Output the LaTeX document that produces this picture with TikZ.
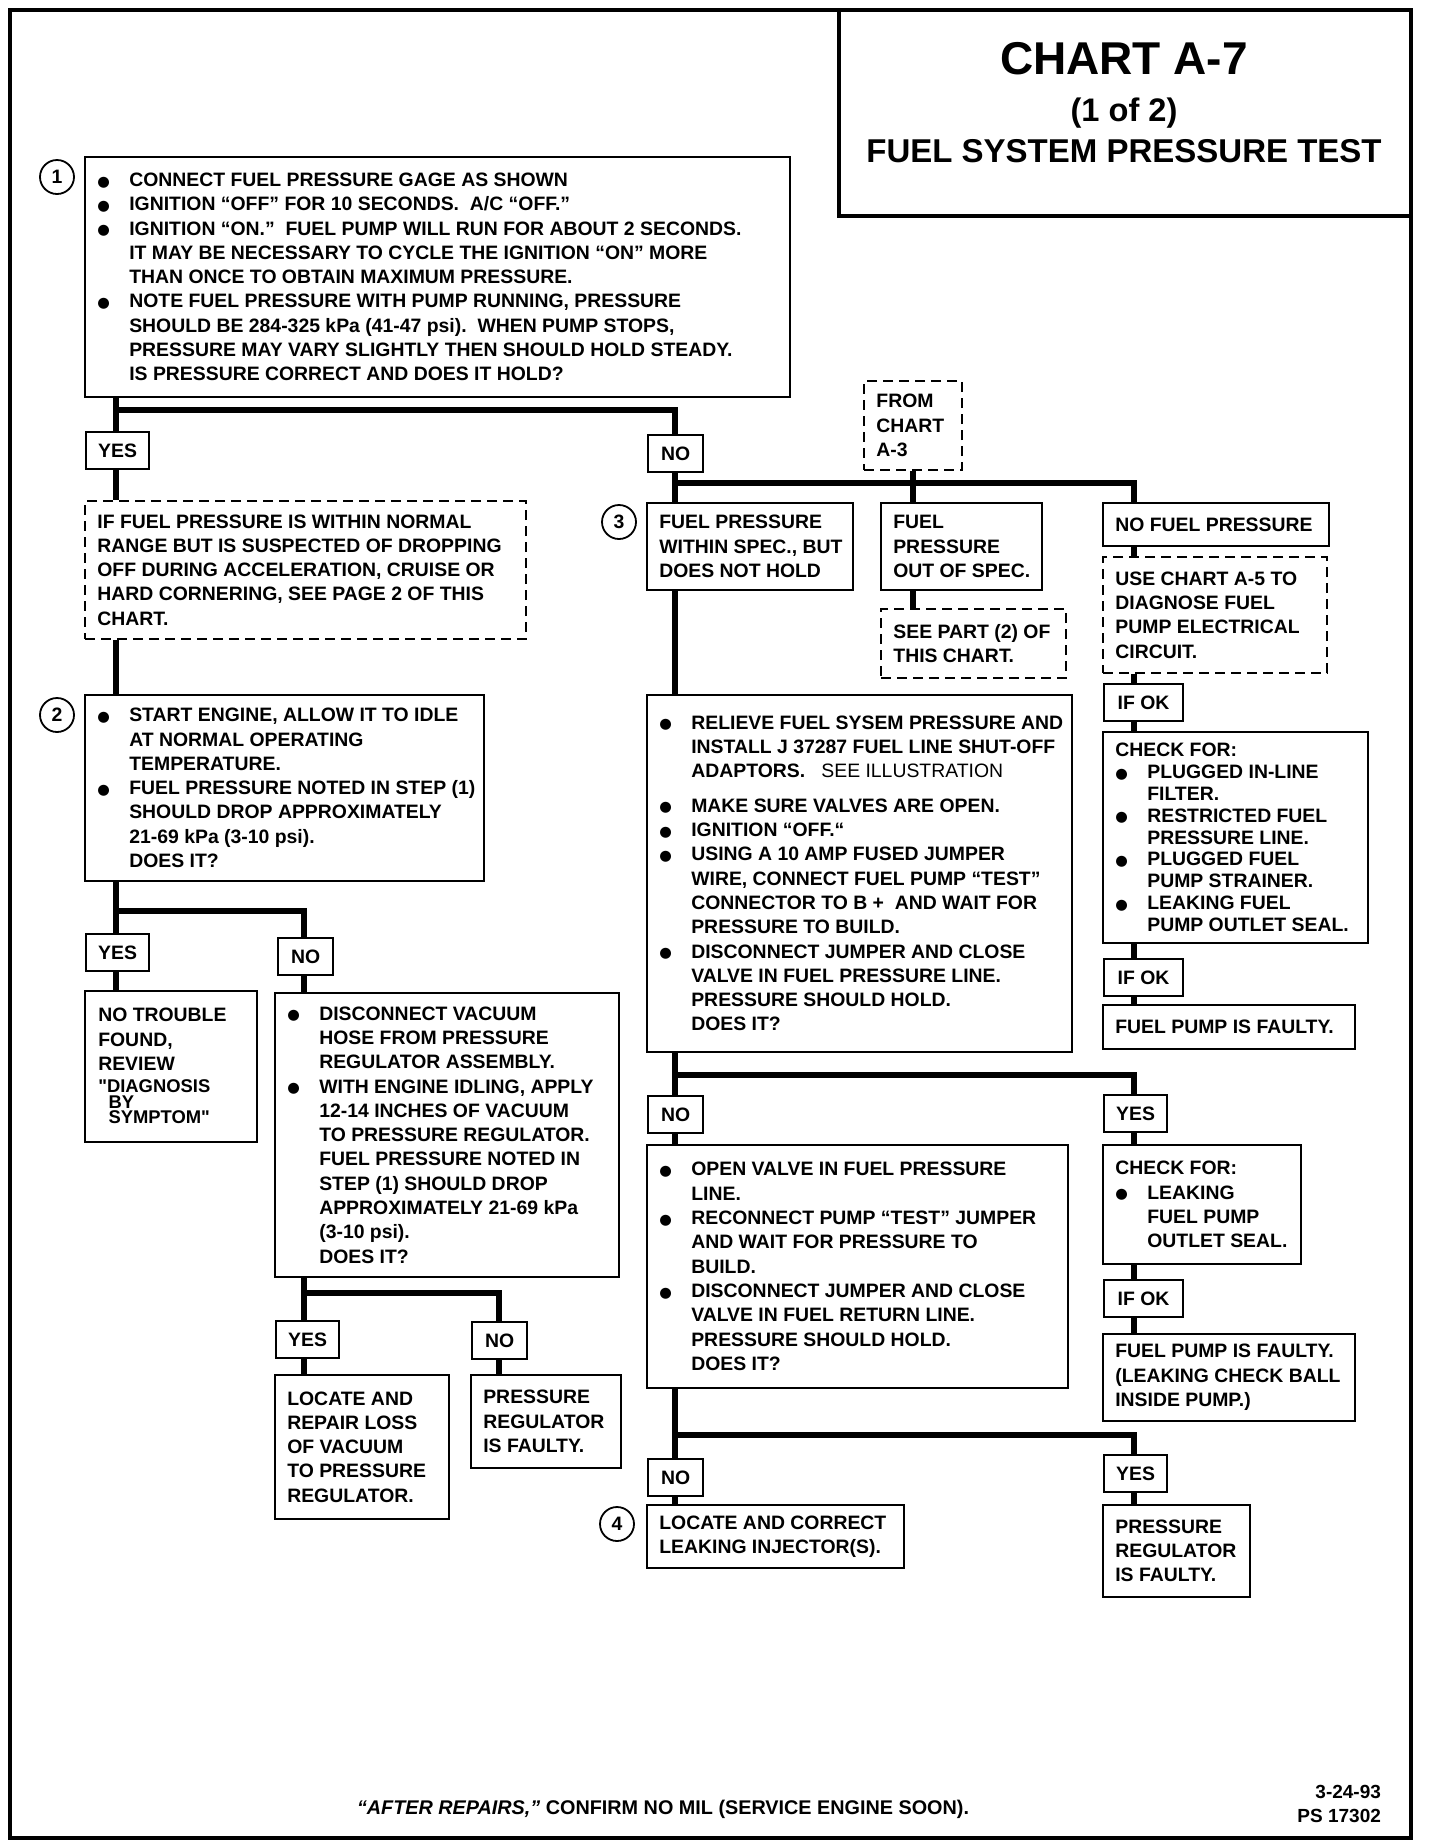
\documentclass[tikz,border=0pt]{standalone}
\usepackage{fontspec}
\setmainfont{Liberation Sans}
\newfontfamily\symf{DejaVu Sans}
\newfontfamily\plainq{Liberation Sans}[Ligatures=TeXOff]
\usetikzlibrary{fit}
\newcommand{\bul}{\makebox[16pt][l]{\raisebox{0.2pt}{\symf\fontsize{7.2}{7}\selectfont ●}}}
\newcommand{\ind}{\hspace*{16pt}}
\newcommand{\sq}{{\plainq\bfseries"}}
\tikzset{
  box/.style={draw, line width=1.1pt, inner sep=0pt},
  dbox/.style={box, line width=1pt, dash pattern=on 5pt off 3pt},
  txt/.style={align=left, inner sep=0pt, font=\fontsize{9.7}{12.15}\selectfont\bfseries},
  lab/.style={draw, line width=1.1pt, fill=white, inner sep=0pt, anchor=north west,
    minimum height=18.5pt, font=\fontsize{9.7}{12.15}\selectfont\bfseries},
  yes/.style={lab, minimum width=31.5pt},
  no/.style={lab, minimum width=27.5pt},
  ifok/.style={lab, minimum width=39.5pt},
  conn/.style={line width=3pt},
  circ/.style={circle, draw, line width=0.9pt, minimum size=17pt, inner sep=0pt,
    font=\fontsize{9.7}{12}\selectfont\bfseries},
}
\newcommand\bx[5][box]{%
  \node[#1, fit={#3 #4}] (#2) {};
  \node[txt, anchor=west] (#2t) at ([xshift=6.5pt]#2.west) {#5};}
\begin{document}
\begin{tikzpicture}[x=0.5pt,y=-0.5pt]
\useasboundingbox (0,0) rectangle (1440,1848);
\draw[line width=1.8pt] (10,10) rectangle (1411,1838);

% title
\node[box, line width=1.6pt, fit={(839,10) (1411,216)}] (title) {};
\node[font=\fontsize{23}{27}\selectfont\bfseries] (t1) at (1124,59) {CHART A-7};
\node[font=\fontsize{16.3}{20}\selectfont\bfseries] (t2) at (1124,113) {(1 of 2)};
\node[font=\fontsize{16.5}{20}\selectfont\bfseries] (t3) at (1124,151) {FUEL SYSTEM PRESSURE TEST};

% trunk x positions
\coordinate (L1) at (116,0);
\coordinate (L2) at (304,0);
\coordinate (L3) at (498.5,0);
\coordinate (M) at (675,0);
\coordinate (R) at (1134,0);

% step 1
\bx{b1}{(85,157)}{(790,397)}{%
\bul CONNECT FUEL PRESSURE GAGE AS SHOWN\\
\bul IGNITION “OFF” FOR 10 SECONDS.\ \ A/C “OFF.”\\
\bul IGNITION “ON.”\ \ FUEL PUMP WILL RUN FOR ABOUT 2 SECONDS.\\
\ind IT MAY BE NECESSARY TO CYCLE THE IGNITION “ON” MORE\\
\ind THAN ONCE TO OBTAIN MAXIMUM PRESSURE.\\
\bul NOTE FUEL PRESSURE WITH PUMP RUNNING, PRESSURE\\
\ind SHOULD BE 284-325 kPa (41-47 psi).\ \ WHEN PUMP STOPS,\\
\ind PRESSURE MAY VARY SLIGHTLY THEN SHOULD HOLD STEADY.\\
\ind IS PRESSURE CORRECT AND DOES IT HOLD?}
\node[circ] (c1) at (57,177) {1};

\node[yes] (yes1) at (85,431) {YES};
\node[no] (no1) at (647,434) {NO};

\bx[dbox]{d1}{(85,501)}{(526,639)}{%
IF FUEL PRESSURE IS WITHIN NORMAL\\
RANGE BUT IS SUSPECTED OF DROPPING\\
OFF DURING ACCELERATION, CRUISE OR\\
HARD CORNERING, SEE PAGE 2 OF THIS\\
CHART.}

% step 2
\bx{b2}{(85,695)}{(484,881)}{%
\bul START ENGINE, ALLOW IT TO IDLE\\
\ind AT NORMAL OPERATING\\
\ind TEMPERATURE.\\
\bul FUEL PRESSURE NOTED IN STEP (1)\\
\ind SHOULD DROP APPROXIMATELY\\
\ind 21-69 kPa (3-10 psi).\\
\ind DOES IT?}
\node[circ] (c2) at (57,715) {2};

\node[yes] (yes2) at (85,933) {YES};
\node[no] (no2) at (277,937) {NO};

\node[box, fit={(85,991) (257,1142)}] (nt) {};
\node[txt, anchor=north west] (ntt) at ([xshift=7pt,yshift=-9pt]nt.north west) {%
NO TROUBLE\\ FOUND,\\ REVIEW\\[-1pt]
{\fontsize{9.2}{8}\selectfont \sq DIAGNOSIS}\\[-4.5pt]
{\fontsize{9.2}{8}\selectfont \ \ BY}\\[-4.5pt]
{\fontsize{9.2}{8}\selectfont \ \ SYMPTOM\sq}};

\bx{dv}{(275,993)}{(619,1277)}{%
\bul DISCONNECT VACUUM\\
\ind HOSE FROM PRESSURE\\
\ind REGULATOR ASSEMBLY.\\
\bul WITH ENGINE IDLING, APPLY\\
\ind 12-14 INCHES OF VACUUM\\
\ind TO PRESSURE REGULATOR.\\
\ind FUEL PRESSURE NOTED IN\\
\ind STEP (1) SHOULD DROP\\
\ind APPROXIMATELY 21-69 kPa\\
\ind (3-10 psi).\\
\ind DOES IT?}

\node[yes] (yes3) at (275,1320) {YES};
\node[no] (no3) at (471,1321) {NO};

\bx{lr}{(275,1375)}{(449,1519)}{%
LOCATE AND\\ REPAIR LOSS\\ OF VACUUM\\ TO PRESSURE\\ REGULATOR.}
\bx{pr1}{(471,1375)}{(621,1468)}{%
PRESSURE\\ REGULATOR\\ IS FAULTY.}

% step 3
\bx[dbox]{fc}{(864,381)}{(962,470)}{FROM\\ CHART\\ A-3}
\bx{b3a}{(647,503)}{(853,590)}{FUEL PRESSURE\\ WITHIN SPEC., BUT\\ DOES NOT HOLD}
\node[circ] (c3) at (619,522) {3};
\bx{b3b}{(881,503)}{(1042,590)}{FUEL\\ PRESSURE\\ OUT OF SPEC.}
\bx[dbox]{sp}{(881,609)}{(1066,678)}{SEE PART (2) OF\\ THIS CHART.}
\bx{nf}{(1103,503)}{(1329,546)}{NO FUEL PRESSURE}
\bx[dbox]{a5}{(1103,557)}{(1327,673)}{USE CHART A-5 TO\\ DIAGNOSE FUEL\\ PUMP ELECTRICAL\\ CIRCUIT.}
\node[ifok] (ok1) at (1103,683) {IF OK};
\node[box, fit={(1103,732) (1368,943)}] (cf1) {};
\node[txt, anchor=west, font=\fontsize{9.7}{10.9}\selectfont\bfseries] (cf1t) at ([xshift=6.5pt]cf1.west) {%
CHECK FOR:\\
\bul PLUGGED IN-LINE\\
\ind FILTER.\\
\bul RESTRICTED FUEL\\
\ind PRESSURE LINE.\\
\bul PLUGGED FUEL\\
\ind PUMP STRAINER.\\
\bul LEAKING FUEL\\
\ind PUMP OUTLET SEAL.};
\node[ifok] (ok2) at (1103,958) {IF OK};
\bx{fp1}{(1103,1005)}{(1355,1049)}{FUEL PUMP IS FAULTY.}

\bx{rv}{(647,695)}{(1072,1052)}{%
\bul RELIEVE FUEL SYSEM PRESSURE AND\\
\ind INSTALL J 37287 FUEL LINE SHUT-OFF\\
\ind ADAPTORS.\ \ \ {\mdseries SEE ILLUSTRATION}\\[5pt]
\bul MAKE SURE VALVES ARE OPEN.\\
\bul IGNITION “OFF.“\\
\bul USING A 10 AMP FUSED JUMPER\\
\ind WIRE, CONNECT FUEL PUMP “TEST”\\
\ind CONNECTOR TO B +\ \ AND WAIT FOR\\
\ind PRESSURE TO BUILD.\\
\bul DISCONNECT JUMPER AND CLOSE\\
\ind VALVE IN FUEL PRESSURE LINE.\\
\ind PRESSURE SHOULD HOLD.\\
\ind DOES IT?}

\node[no] (no4) at (647,1095) {NO};
\node[yes] (yes4) at (1103,1094) {YES};

\bx{ov}{(647,1145)}{(1068,1388)}{%
\bul OPEN VALVE IN FUEL PRESSURE\\
\ind LINE.\\
\bul RECONNECT PUMP “TEST” JUMPER\\
\ind AND WAIT FOR PRESSURE TO\\
\ind BUILD.\\
\bul DISCONNECT JUMPER AND CLOSE\\
\ind VALVE IN FUEL RETURN LINE.\\
\ind PRESSURE SHOULD HOLD.\\
\ind DOES IT?}
\bx{cf2}{(1103,1145)}{(1301,1264)}{%
CHECK FOR:\\
\bul LEAKING\\
\ind FUEL PUMP\\
\ind OUTLET SEAL.}
\node[ifok] (ok3) at (1103,1279) {IF OK};
\bx{fp2}{(1103,1334)}{(1355,1421)}{%
FUEL PUMP IS FAULTY.\\ (LEAKING CHECK BALL\\ INSIDE PUMP.)}

\node[no] (no5) at (647,1458) {NO};
\node[yes] (yes5) at (1103,1454) {YES};
\bx{li}{(647,1505)}{(904,1568)}{LOCATE AND CORRECT\\ LEAKING INJECTOR(S).}
\node[circ] (c4) at (617,1524) {4};
\bx{pr2}{(1103,1505)}{(1250,1597)}{PRESSURE\\ REGULATOR\\ IS FAULTY.}

% footer
\node[font=\fontsize{9.9}{12}\selectfont\bfseries] (foot) at (663,1809)
  {\itshape “AFTER REPAIRS,”\upshape\ CONFIRM NO MIL (SERVICE ENGINE SOON).};
\node[align=right, anchor=east, font=\fontsize{9.5}{12}\selectfont\bfseries] (date) at (1388,1804)
  {3-24-93\\ PS 17302};

% connectors
\coordinate (j1) at (116,410);
\coordinate (j2) at (116,911);
\coordinate (j3) at (304,1293);
\coordinate (j4) at (675,483);
\coordinate (j5) at (675,1075);
\coordinate (j6) at (675,1435);

\draw[conn] (L1 |- b1.south) -- (L1 |- yes1.north);
\draw[conn] (j1) -| (M |- no1.north);
\draw[conn] (L1 |- yes1.south) -- (L1 |- d1.north);
\draw[conn] (L1 |- d1.south) -- (L1 |- b2.north);
\draw[conn] (L1 |- b2.south) -- (L1 |- yes2.north);
\draw[conn] (j2) -| (L2 |- no2.north);
\draw[conn] (L1 |- yes2.south) -- (L1 |- nt.north);
\draw[conn] (L2 |- no2.south) -- (L2 |- dv.north);
\draw[conn] (L2 |- dv.south) -- (L2 |- yes3.north);
\draw[conn] (j3) -| (L3 |- no3.north);
\draw[conn] (L2 |- yes3.south) -- (L2 |- lr.north);
\draw[conn] (L3 |- no3.south) -- (L3 |- pr1.north);

\draw[conn] (M |- no1.south) -- (M |- b3a.north);
\draw[conn] (j4) -| (R |- nf.north);
\draw[conn] (fc.south) -- (fc.south |- b3b.north);
\draw[conn] (fc.south |- b3b.south) -- (fc.south |- sp.north);
\draw[conn] (R |- nf.south) -- (R |- a5.north);
\draw[conn] (R |- a5.south) -- (R |- ok1.north);
\draw[conn] (R |- ok1.south) -- (R |- cf1.north);
\draw[conn] (R |- cf1.south) -- (R |- ok2.north);
\draw[conn] (R |- ok2.south) -- (R |- fp1.north);
\draw[conn] (M |- b3a.south) -- (M |- rv.north);
\draw[conn] (M |- rv.south) -- (M |- no4.north);
\draw[conn] (j5) -| (R |- yes4.north);
\draw[conn] (M |- no4.south) -- (M |- ov.north);
\draw[conn] (R |- yes4.south) -- (R |- cf2.north);
\draw[conn] (R |- cf2.south) -- (R |- ok3.north);
\draw[conn] (R |- ok3.south) -- (R |- fp2.north);
\draw[conn] (M |- ov.south) -- (M |- no5.north);
\draw[conn] (j6) -| (R |- yes5.north);
\draw[conn] (M |- no5.south) -- (M |- li.north);
\draw[conn] (R |- yes5.south) -- (R |- pr2.north);
\end{tikzpicture}
\end{document}
